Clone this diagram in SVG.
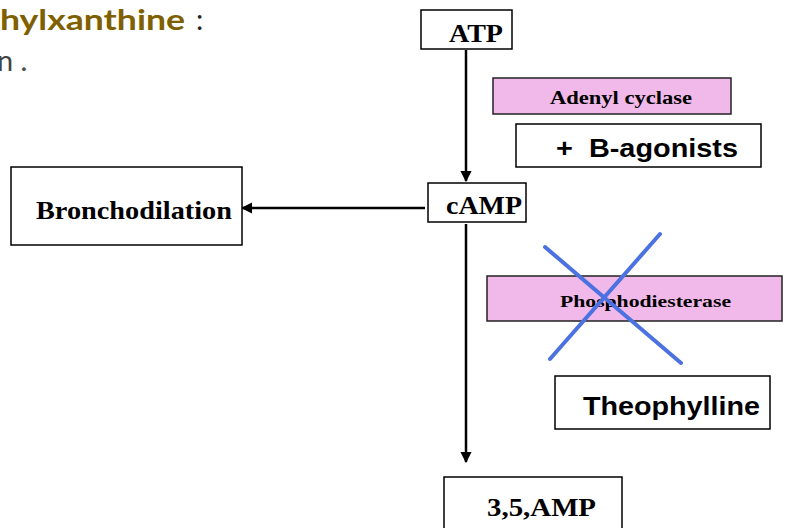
<svg xmlns="http://www.w3.org/2000/svg" width="791" height="528" viewBox="0 0 791 528">
<style>
.box{fill:#fff;stroke:#000;stroke-width:1.5}
.pink{fill:#f0b9ea;stroke:#222;stroke-width:1.5}
.serif{font-family:"Liberation Serif","Times New Roman",serif;font-weight:bold;fill:#000}
.sans{font-family:"Liberation Sans",Arial,sans-serif;font-weight:bold;fill:#000}
.conn{stroke:#000;stroke-width:2.5;fill:none}
.cross{stroke:#4b72e0;stroke-width:4;stroke-linecap:round}
</style>
<defs>
<marker id="ah" viewBox="0 0 10 10" refX="9" refY="5" markerWidth="4.5" markerHeight="4.5" orient="auto" markerUnits="strokeWidth">
<path d="M0,0 L10,5 L0,10 z" fill="#000"/>
</marker>
</defs>
<rect width="791" height="528" fill="#fff"/>
<g id="title">
<text x="0" y="30" font-family="Lato,'Open Sans',sans-serif" font-weight="bold" font-size="29" fill="#7f6000" textLength="185" lengthAdjust="spacingAndGlyphs">hylxanthine</text>
<text x="196" y="30" font-family="Lato,'Open Sans',sans-serif" font-size="29" fill="#222">:</text>
<text x="-3" y="71" font-family="Lato,'Open Sans',sans-serif" font-size="29" fill="#444">n .</text>
</g>
<g id="connectors">
<line class="conn" x1="466" y1="50" x2="466" y2="181" marker-end="url(#ah)"/>
<line class="conn" x1="425" y1="208" x2="242" y2="208" marker-end="url(#ah)"/>
<line class="conn" x1="466" y1="224" x2="466" y2="462" marker-end="url(#ah)"/>
</g>
<g id="atp">
<rect class="box" x="421" y="10" width="91" height="39"/>
<text class="serif" x="449" y="41.5" font-size="26" textLength="54" lengthAdjust="spacingAndGlyphs">ATP</text>
</g>
<g id="adenyl-cyclase">
<rect class="pink" x="493" y="78" width="238" height="36"/>
<text class="serif" x="550" y="104" font-size="18" textLength="142" lengthAdjust="spacingAndGlyphs">Adenyl cyclase</text>
</g>
<g id="b-agonists">
<rect class="box" x="516" y="124" width="245" height="43"/>
<text class="sans" x="556" y="156.5" font-size="25" textLength="182" lengthAdjust="spacingAndGlyphs" xml:space="preserve">+  B-agonists</text>
</g>
<g id="bronchodilation">
<rect class="box" x="11" y="167" width="231" height="78"/>
<text class="serif" x="36" y="218.5" font-size="26" textLength="196" lengthAdjust="spacingAndGlyphs">Bronchodilation</text>
</g>
<g id="camp">
<rect class="box" x="428" y="183" width="98" height="39"/>
<text class="serif" x="446" y="213.5" font-size="25" textLength="76" lengthAdjust="spacingAndGlyphs">cAMP</text>
</g>
<g id="phosphodiesterase">
<rect class="pink" x="487" y="276" width="295" height="45"/>
<text class="serif" x="560" y="306.5" font-size="17.5" textLength="171" lengthAdjust="spacingAndGlyphs">Phosphodiesterase</text>
</g>
<g id="cross">
<line class="cross" x1="545" y1="247" x2="681" y2="363"/>
<line class="cross" x1="660" y1="234" x2="550" y2="359"/>
</g>
<g id="theophylline">
<rect class="box" x="555" y="376" width="215" height="53"/>
<text class="sans" x="583" y="415" font-size="25" textLength="177" lengthAdjust="spacingAndGlyphs">Theophylline</text>
</g>
<g id="amp">
<rect class="box" x="444" y="477" width="178" height="60"/>
<text class="serif" x="487" y="516" font-size="26" textLength="109" lengthAdjust="spacingAndGlyphs">3,5,AMP</text>
</g>
</svg>
